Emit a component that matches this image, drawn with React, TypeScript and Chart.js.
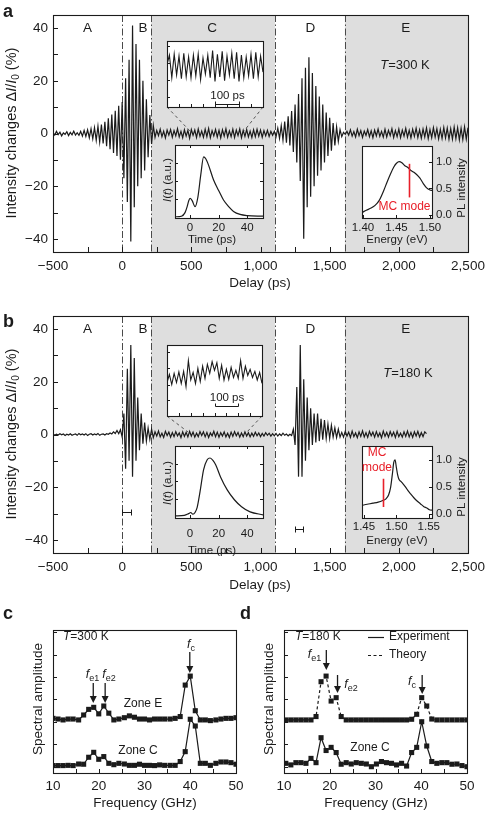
import React, { useEffect, useRef } from 'react';
import { Chart, registerables } from 'chart.js';

Chart.register(...registerables);

const FONT = '"Liberation Sans", Arial, Helvetica, sans-serif';
const INK = '#1b1b1b';
const ZONE_FILL = '#dedede';
const RED = '#e8202a';

// ---------------- Panels a / b : delay scans ----------------
const DELAY_START = -500; // ps
const DELAY_STEP = 12.5; // ps
const zoneBounds = [0, 210, 1105, 1610];
const shadedZones = [[210, 1105], [1610, 2500]];
const zoneLetters = ['A', 'B', 'C', 'D', 'E'];
const zoneLetterAt = [-250, 150, 650, 1360, 2050];
const delayTickLabels = [-500, 0, 500, 1000, 1500, 2000, 2500];
const delayMinorTicks = [-500, -250, 0, 250, 500, 750, 1000, 1250, 1500, 1750, 2000, 2250, 2500];
const intensityTickLabels = [-40, -20, 0, 20, 40];
const intensityMinorTicks = [-40, -30, -20, -10, 0, 10, 20, 30, 40];

// T = 300 K trace (ΔI/I0, %)
const t300Pre = [0.3, -0.6, 0.8, -0.4, 0.5, -0.9, 0.2, -0.3, 0.7, -0.8, 0.4, -0.5, 0.9, -0.6, 0.3, -0.7, 0.8,
  -1.0, 1.2, -1.1, 1.4,
  -1.6, 1.8, -2.0, 2.2, -2.6, 2.8, -3.2, 3.4, -3.8, 4.4, -4.8, 5.8, -6.0, 7.2, -7.4, 8.6, -8.5, 10.5, -10.0, 12.0];
const t300BurstB = [-17, 21, -26, 28, -41, 41, -28, 34, -20, 28, -17, 20, -14, 13, -9, 7, -4, 3];
const t300ZoneC = [-1.5, 1.2, -0.8, 1.6, -1.2, 0.9, -1.7, 1.3, -0.6, 1.5,
  -1.4, 1.1, -0.9, 1.8, -1.3, 0.8, -1.6, 1.4, -1.0, 1.2,
  -1.8, 1.5, -0.7, 1.3, -1.5, 1.7, -1.1, 0.9, -1.4, 1.6,
  -1.2, 1.9, -1.6, 1.1, -0.9, 1.5, -1.3, 1.2, -1.7, 1.4,
  -1.0, 1.8, -1.4, 1.0, -1.2, 1.6, -1.5, 1.3, -0.8, 1.7,
  -1.6, 1.2, -1.1, 1.5, -1.3, 0.9, -1.5, 1.4, -1.2, 1.6,
  -1.0, 1.3, -1.4, 1.1, -0.9, 1.2, -1.1, 0.8, -0.7];
const t300BurstD = [0.8, -1.2, 2.0, -1.8, 3.0, -2.5, 4.5, -3.5, 6.5, -4.5, 8.5, -7, 11, -11, 15, -18, 21, -40,
  25, -28, 29, -24, 23, -20, 18, -16, 14, -14, 11, -11, 8, -8.5, 6, -6.5, 4, -4.5, 2.5, -3, 1.5];
const t300ZoneE = [-1.2, 0.4, -0.3, 0.8, -0.6, 1.4, -1.0, 0.7, -1.3, 1.6,
  -0.8, 1.1, -1.5, 0.9, -0.7, 1.5, -1.2, 1.0, -1.6, 1.3,
  -0.9, 1.7, -1.1, 0.8, -1.4, 1.6, -1.3, 1.2, -0.8, 1.8,
  -1.5, 1.1, -1.2, 1.7, -1.6, 1.3, -1.0, 1.9, -1.4, 1.2,
  -1.7, 1.6, -1.1, 2.0, -1.5, 1.4, -1.8, 1.7, -1.3, 2.1,
  -1.9, 1.5, -1.6, 2.2, -1.4, 1.8, -2.0, 1.6, -1.9, 2.3,
  -1.7, 2.0, -2.2, 1.8, -2.1, 2.4, -1.9, 2.2, -2.4, 2.0,
  -2.3, 2.5, -2.1, 2.2];

// T = 180 K trace (ΔI/I0, %)
const t180Pre = [0.2, -0.3, 0.1, -0.2, 0.3, -0.1, 0.2, -0.4, 0.1, -0.2, 0.3, -0.3, 0.0, 0.2, -0.3, 0.4, -0.1,
  0.2, -0.2, 0.3, -0.4, 0.1, 0.3, -0.2, 0.2, -0.1, 0.4, -0.3, 0.1, 0.2, -0.2, 0.3, 0.1,
  0.6, 0.2, 1.0, 0.4, 1.5, 0.3, 1.8, -1.0];
const t180BurstB = [8, -13, 25, -10, 34, -16, 29, -10, 14, -6, 8, -3.5, 4.5, -2.5, 2.5, -1.8, 2.0];
const t180ZoneC = [-1.2, 1.0, -0.6, 1.3, -0.9, 0.5, -1.1, 1.2, -0.4, 0.9,
  -1.0, 0.7, -0.8, 1.1, -0.5, 0.6, -1.2, 1.0, -0.7, 0.8,
  -0.9, 1.2, -0.6, 0.9, -1.0, 0.5, -0.8, 1.1, -0.4, 1.0,
  -0.9, 0.8, -1.1, 0.6, -0.5, 1.2, -0.8, 0.9, -1.0, 0.7,
  -0.6, 1.0, -0.9, 0.5, -1.1, 0.9, -0.7, 1.1, -0.5, 0.8,
  -1.0, 0.6, -0.8, 1.0, -0.6, 0.7, -0.9, 0.5, -0.7, 0.9,
  -0.5, 0.6, -0.8, 0.4, -0.6, 0.7, -0.3, 0.5, -0.6, 0.3,
  -0.5, 0.4, -0.6, 0.2, -0.4, 0.5, -0.3, 0.2, -0.5, 0.1, -0.4];
const t180BurstD = [2, -4, 18, -16, 34, -16, 21, -10, 14, -6, 10, -4, 8, -3, 8, -2.5, 6, -2, 5.5, -1.5,
  4, -1.5, 3.5, -1, 2.5, -1.2, 2, -1];
const t180ZoneE = [0.8, -1.0, 1.2, -0.6, 0.9, -1.1, 1.3, -0.8, 0.6, -1.2,
  1.0, -0.7, 1.4, -0.9, 0.7, -1.1, 1.2, -0.5, 0.9, -1.0,
  1.1, -0.8, 0.6, -1.2, 1.3, -0.7, 0.8, -1.0, 1.1, -0.6,
  0.9, -1.1, 1.2, -0.8, 0.5, -1.0, 1.0, -0.7, 1.3, -0.9,
  0.8, -1.1, 1.0, -0.6, 1.2, -0.9, 0.7, -0.8, 1.0, 0.3];

// Upper insets: zoom of zone C (400 ps window, 10 ps steps)
const OSC_STEP = 10;
const osc300 = [0.5, 1.5, -0.9, 1.6, -0.6, 1.4, -1.0, 1.7, -0.8, 1.3, -0.9, 1.5, -0.7, 1.6, -1.1, 1.2, -0.5, 1.5,
  -0.9, 2.0, -1.3, 1.6, -0.8, 1.9, -1.2, 1.4, -0.6, 1.7, -1.0, 1.8, -1.3, 1.5, -0.9, 1.3, -0.7, 1.6, -1.0, 1.8,
  -0.8, 1.4, -0.3];
const osc180 = [-0.7, 0.1, -0.9, 0.2, -0.7, 0.35, -0.8, 0.4, -1.1, 1.45, -0.45, 0.3, -0.8, 0.7, -0.6, 0.9, -0.3,
  1.1, 0.2, 1.35, 0.5, 1.25, -0.3, 1.0, -0.45, 0.6, -0.4, 0.8, -0.2, 0.5, -0.3, 1.45, -0.3, 0.9, 0.0, 0.6, -0.2,
  0.4, -0.45, 0.3, -0.78];

// Lower insets: I(t) pump pulse
const pulse300T = [-10.5, -6, -3.5, -2, -1, 0, 1.5, 3.5, 5.5, 7.5, 9.5, 11, 13, 16.4, 20, 23.4, 27, 30.4, 35, 40, 51];
const pulse300I = [0, 0.01, 0.07, 0.17, 0.26, 0.31, 0.27, 0.17, 0.33, 0.7, 1.0, 0.97, 0.86, 0.62, 0.44, 0.28, 0.17,
  0.09, 0.04, 0.02, 0.01];
const pulse180T = [-10.5, -4, -1, 0.5, 2, 3.5, 5, 7, 9.5, 12, 14, 16, 18, 21.4, 26, 31, 36, 42, 51];
const pulse180I = [0, 0.01, 0.04, 0.06, 0.03, 0.06, 0.15, 0.42, 0.8, 0.97, 1.0, 0.96, 0.88, 0.67, 0.45, 0.28, 0.16,
  0.07, 0.02];
const pulseTicks = [0, 20, 40];

// Right insets: PL spectra
const pl300E = [1.399, 1.405, 1.412, 1.418, 1.424, 1.431, 1.436, 1.441, 1.446, 1.450, 1.454, 1.458, 1.462, 1.467,
  1.471, 1.476, 1.480, 1.485, 1.490, 1.495, 1.500, 1.503];
const pl300I = [0.05, 0.09, 0.13, 0.18, 0.27, 0.46, 0.62, 0.77, 0.90, 0.97, 1.00, 0.98, 0.93, 0.89, 0.84, 0.80,
  0.76, 0.69, 0.59, 0.51, 0.47, 0.46];
const pl180E = [1.447, 1.455, 1.464, 1.472, 1.479, 1.484, 1.488, 1.491, 1.494, 1.496, 1.498, 1.500, 1.502, 1.504,
  1.507, 1.510, 1.514, 1.518, 1.522, 1.527, 1.532, 1.537, 1.542, 1.547, 1.551, 1.555];
const pl180I = [0.16, 0.18, 0.20, 0.22, 0.25, 0.28, 0.35, 0.48, 0.75, 0.95, 1.00, 0.86, 0.72, 0.64, 0.60, 0.56,
  0.50, 0.43, 0.37, 0.30, 0.24, 0.19, 0.14, 0.11, 0.08, 0.07];
const mcMode300 = { e: 1.469, lo: 0.33, hi: 0.96 };
const mcMode180 = { e: 1.479, lo: 0.13, hi: 0.65 };
const pl300Ticks = [1.40, 1.45, 1.50];
const pl180Ticks = [1.45, 1.50, 1.55];
const plYTicks = [0, 0.5, 1.0];

// ---------------- Panels c / d : spectra ----------------
const freqC = [10.0, 11.1, 12.2, 13.3, 14.4, 15.6, 16.7, 17.8, 18.9, 20.0, 21.1, 22.2, 23.3, 24.4, 25.6, 26.7, 27.8,
  28.9, 30.0, 31.1, 32.2, 33.3, 34.4, 35.6, 36.7, 37.8, 38.9, 40.0, 41.1, 42.2, 43.3, 44.4, 45.6, 46.7, 47.8, 48.9, 50.0];
const spec300ZoneE = [2.16, 2.13, 2.09, 2.13, 2.13, 2.09, 2.31, 2.56, 2.65, 2.36, 2.71, 2.39, 2.09, 2.13, 2.19, 2.27,
  2.21, 2.13, 2.13, 2.09, 2.13, 2.13, 2.13, 2.13, 2.16, 2.24, 3.64, 4.04, 2.50, 2.09, 2.09, 2.06, 2.09, 2.13, 2.16,
  2.16, 2.19];
const spec300ZoneC = [0.06, 0.06, 0.06, 0.07, 0.06, 0.13, 0.12, 0.43, 0.65, 0.34, 0.46, 0.16, 0.10, 0.16, 0.13, 0.07,
  0.07, 0.12, 0.07, 0.07, 0.06, 0.09, 0.07, 0.07, 0.07, 0.24, 0.68, 2.12, 1.82, 0.16, 0.16, 0.07, 0.16, 0.22, 0.22,
  0.19, 0.12];
const freqD = [10.4, 11.5, 12.6, 13.7, 14.8, 15.9, 17.0, 18.1, 19.2, 20.3, 21.4, 22.5, 23.6, 24.7, 25.8, 26.9, 28.0,
  29.1, 30.2, 31.3, 32.4, 33.5, 34.6, 35.7, 36.8, 37.9, 39.0, 40.1, 41.2, 42.3, 43.4, 44.5, 45.6, 46.7, 47.8, 48.9, 50.0];
const spec180Theory = [2.09, 2.09, 2.09, 2.09, 2.09, 2.09, 2.24, 3.79, 4.04, 2.93, 3.08, 2.24, 2.09, 2.09, 2.09, 2.09,
  2.09, 2.09, 2.09, 2.09, 2.09, 2.09, 2.09, 2.09, 2.09, 2.12, 2.34, 3.08, 2.71, 2.13, 2.09, 2.09, 2.09, 2.09, 2.09,
  2.09, 2.09];
const spec180ZoneC = [0.16, 0.09, 0.19, 0.19, 0.16, 0.38, 0.19, 1.30, 0.73, 0.87, 0.64, 0.12, 0.19, 0.13, 0.19, 0.16,
  0.13, 0.01, 0.13, 0.24, 0.19, 0.16, 0.09, 0.16, 0.04, 0.64, 0.87, 2.01, 0.93, 0.24, 0.16, 0.19, 0.19, 0.12, 0.13,
  0.06, 0.01];
const freqTicks = [10, 20, 30, 40, 50];
const freqMinorTicks = [10, 15, 20, 25, 30, 35, 40, 45, 50];
const ampMinorTicks = [0, 1, 2, 3, 4, 5, 6];

// ---------------- helpers ----------------
const COMMON: any = {
  responsive: false,
  maintainAspectRatio: false,
  animation: false,
  devicePixelRatio: 1,
  events: [],
  plugins: { legend: { display: false }, tooltip: { enabled: false }, title: { display: false } },
};

function series(start: number, step: number, segs: number[][]) {
  const ys: number[] = ([] as number[]).concat(...segs);
  return ys.map((y, i) => ({ x: start + i * step, y }));
}
function pairs(xs: number[], ys: number[]) {
  return xs.map((x, i) => ({ x, y: ys[i] }));
}
const minus = (v: number, s: string) => (v < 0 ? '\u2212' + s.replace('-', '') : s);
const fmtDelay = (v: number) => minus(v, Math.abs(v) >= 1000 ? v.toLocaleString('en-US') : String(v));
const fmtSigned = (v: number) => minus(v, String(v));

function linScale(o: any) {
  return {
    type: 'linear',
    position: o.position,
    min: o.min,
    max: o.max,
    grid: { display: false, drawTicks: false },
    border: { display: false },
    afterBuildTicks: o.ticks ? (s: any) => { s.ticks = o.ticks.map((v: number) => ({ value: v })); } : undefined,
    afterFit: (s: any) => { if (o.horizontal) s.height = o.fit; else s.width = o.fit; },
    ticks: {
      display: !!o.ticks,
      autoSkip: false,
      maxRotation: 0,
      minRotation: 0,
      padding: o.pad ?? 4,
      color: INK,
      font: { family: FONT, size: o.size ?? 12 },
      callback: (v: any) => (o.fmt ? o.fmt(Number(v)) : String(v)),
    },
  };
}

type Part = { t: string; i?: boolean; sub?: boolean };
function rich(ctx: CanvasRenderingContext2D, parts: Part[] | string, x: number, y: number, size: number,
  o: { align?: string; rot?: number; color?: string; bold?: boolean } = {}) {
  const ps: Part[] = typeof parts === 'string' ? [{ t: parts }] : parts;
  ctx.save();
  ctx.translate(x, y);
  if (o.rot) ctx.rotate(o.rot);
  ctx.fillStyle = o.color || INK;
  ctx.textBaseline = 'middle';
  ctx.textAlign = 'left';
  const font = (p: Part) => `${p.i ? 'italic ' : ''}${o.bold ? 'bold ' : ''}${p.sub ? Math.round(size * 0.72) : size}px ${FONT}`;
  let total = 0;
  const widths = ps.map((p) => { ctx.font = font(p); const w = ctx.measureText(p.t).width; total += w; return w; });
  let cx = o.align === 'left' ? 0 : o.align === 'right' ? -total : -total / 2;
  ps.forEach((p, k) => { ctx.font = font(p); ctx.fillText(p.t, cx, p.sub ? size * 0.3 : 0); cx += widths[k]; });
  ctx.restore();
}

function frame(ctx: CanvasRenderingContext2D, a: any) {
  ctx.save();
  ctx.strokeStyle = INK;
  ctx.lineWidth = 1.1;
  ctx.setLineDash([]);
  ctx.strokeRect(Math.round(a.left) + 0.5, Math.round(a.top) + 0.5, Math.round(a.right - a.left), Math.round(a.bottom - a.top));
  ctx.restore();
}

function inTicks(ctx: CanvasRenderingContext2D, chart: any, axis: 'x' | 'y', values: number[], len: number, sides: string[]) {
  const a = chart.chartArea;
  const s = chart.scales[axis];
  ctx.save();
  ctx.strokeStyle = INK;
  ctx.lineWidth = 1;
  ctx.beginPath();
  for (const v of values) {
    const p = Math.round(s.getPixelForValue(v)) + 0.5;
    if (axis === 'x') {
      if (sides.includes('bottom')) { ctx.moveTo(p, a.bottom); ctx.lineTo(p, a.bottom - len); }
      if (sides.includes('top')) { ctx.moveTo(p, a.top); ctx.lineTo(p, a.top + len); }
    } else {
      if (sides.includes('left')) { ctx.moveTo(a.left, p); ctx.lineTo(a.left + len, p); }
      if (sides.includes('right')) { ctx.moveTo(a.right, p); ctx.lineTo(a.right - len, p); }
    }
  }
  ctx.stroke();
  ctx.restore();
}

function whiteArea(chart: any) {
  const { ctx, chartArea: a } = chart;
  ctx.save();
  ctx.fillStyle = '#ffffff';
  ctx.fillRect(a.left, a.top, a.right - a.left, a.bottom - a.top);
  ctx.restore();
}

function arrowDown(ctx: CanvasRenderingContext2D, x: number, y0: number, y1: number) {
  ctx.save();
  ctx.strokeStyle = INK;
  ctx.fillStyle = INK;
  ctx.lineWidth = 1.3;
  ctx.beginPath();
  ctx.moveTo(x, y0);
  ctx.lineTo(x, y1 - 5);
  ctx.stroke();
  ctx.beginPath();
  ctx.moveTo(x - 3.5, y1 - 7);
  ctx.lineTo(x + 3.5, y1 - 7);
  ctx.lineTo(x, y1);
  ctx.closePath();
  ctx.fill();
  ctx.restore();
}

// zoom-guide segments (delay, ΔI/I0) and resolution bars
const guideA = [[324, 10.06, 490, 0.95], [1018, 10.06, 881, 0.95]];
const guideB = [[324, 7.0, 476, 0.95], [1011, 7.0, 902, 0.95]];
const resBarsB = [[0, 65, -29.4], [1250, 1310, -35.9]];

const yLabelParts: Part[] = [{ t: 'Intensity changes \u0394' }, { t: 'I', i: true }, { t: '/' }, { t: 'I', i: true }, { t: '0', sub: true }, { t: ' (%)' }];

// ---------------- chart builders ----------------
function buildMain(canvas: HTMLCanvasElement, kind: 'a' | 'b') {
  const data = kind === 'a'
    ? series(DELAY_START, DELAY_STEP, [t300Pre, t300BurstB, t300ZoneC, t300BurstD, t300ZoneE])
    : series(DELAY_START, DELAY_STEP, [t180Pre, t180BurstB, t180ZoneC, t180BurstD, t180ZoneE]);
  return new Chart(canvas, {
    type: 'line',
    data: { datasets: [{ data, borderColor: INK, borderWidth: 1.2, pointRadius: 0, tension: 0 }] },
    options: {
      ...COMMON,
      layout: { padding: { left: 0, top: 15, right: 32, bottom: 0 } },
      scales: {
        x: linScale({ min: -500, max: 2500, ticks: delayTickLabels, fmt: fmtDelay, size: 13.5, pad: 6, fit: 48, horizontal: true }),
        y: linScale({ min: -45, max: 45, ticks: intensityTickLabels, fmt: fmtSigned, size: 13.5, pad: 5, fit: 53, horizontal: false }),
      },
    } as any,
    plugins: [{
      id: 'delayDecor',
      beforeDatasetsDraw(chart: any) {
        const { ctx, chartArea: a, scales } = chart;
        const sx = scales.x;
        ctx.save();
        ctx.fillStyle = ZONE_FILL;
        for (const [z0, z1] of shadedZones) {
          const p0 = sx.getPixelForValue(z0);
          const p1 = sx.getPixelForValue(z1);
          ctx.fillRect(p0, a.top, p1 - p0, a.bottom - a.top);
        }
        ctx.strokeStyle = '#4a4a4a';
        ctx.lineWidth = 1;
        ctx.setLineDash([7, 2.5, 1.5, 2.5]);
        for (const b of zoneBounds) {
          const p = Math.round(sx.getPixelForValue(b)) + 0.5;
          ctx.beginPath();
          ctx.moveTo(p, a.top);
          ctx.lineTo(p, a.bottom);
          ctx.stroke();
        }
        ctx.restore();
      },
      afterDatasetsDraw(chart: any) {
        const { ctx, chartArea: a, scales } = chart;
        const sx = scales.x;
        const sy = scales.y;
        frame(ctx, a);
        inTicks(ctx, chart, 'x', delayMinorTicks, 5, ['bottom']);
        inTicks(ctx, chart, 'y', intensityMinorTicks, 5, ['left']);
        ctx.save();
        ctx.setLineDash([3, 3]);
        ctx.strokeStyle = '#555';
        ctx.lineWidth = 1;
        for (const [x0, y0, x1, y1] of (kind === 'a' ? guideA : guideB)) {
          ctx.beginPath();
          ctx.moveTo(sx.getPixelForValue(x0), sy.getPixelForValue(y0));
          ctx.lineTo(sx.getPixelForValue(x1), sy.getPixelForValue(y1));
          ctx.stroke();
        }
        ctx.restore();
        if (kind === 'b') {
          ctx.save();
          ctx.strokeStyle = INK;
          ctx.lineWidth = 1;
          for (const [x0, x1, y] of resBarsB) {
            const p0 = Math.round(sx.getPixelForValue(x0)) + 0.5;
            const p1 = Math.round(sx.getPixelForValue(x1)) + 0.5;
            const py = Math.round(sy.getPixelForValue(y)) + 0.5;
            ctx.beginPath();
            ctx.moveTo(p0, py); ctx.lineTo(p1, py);
            ctx.moveTo(p0, py - 3); ctx.lineTo(p0, py + 3);
            ctx.moveTo(p1, py - 3); ctx.lineTo(p1, py + 3);
            ctx.stroke();
          }
          ctx.restore();
        }
        zoneLetters.forEach((L, k) => rich(ctx, L, sx.getPixelForValue(zoneLetterAt[k]), a.top + 13.5, 13.5));
        rich(ctx, [{ t: 'T', i: true }, { t: kind === 'a' ? '=300 K' : '=180 K' }], kind === 'a' ? 405 : 408, kind === 'a' ? 65 : 72, 13);
        rich(ctx, kind, 3, kind === 'a' ? 12 : 21, 18, { align: 'left', bold: true });
        rich(ctx, yLabelParts, 12, 133, 14.5, { rot: -Math.PI / 2 });
        rich(ctx, 'Delay (ps)', 260, kind === 'a' ? 283 : 284, 13.5);
      },
    }],
  } as any);
}

function buildOsc(canvas: HTMLCanvasElement, kind: 'a' | 'b') {
  const vals = kind === 'a' ? osc300 : osc180;
  const barY = kind === 'a' ? -3.68 : -3.02;
  const yTicks = kind === 'a' ? [2.5, 0.7, -1.1, -2.9] : [2.3, 0.7, -0.9, -2.4];
  return new Chart(canvas, {
    type: 'line',
    data: { datasets: [{ data: vals.map((y, i) => ({ x: i * OSC_STEP, y })), borderColor: INK, borderWidth: 1.1, pointRadius: 0 }] },
    options: {
      ...COMMON,
      layout: { padding: kind === 'a' ? { left: 7, top: 6, right: 7, bottom: 8 } : { left: 7, top: 6, right: 8, bottom: 3 } },
      scales: {
        x: { type: 'linear', display: false, min: 0, max: 400 },
        y: { type: 'linear', display: false, min: -4, max: 3 },
      },
    } as any,
    plugins: [{
      id: 'oscDecor',
      beforeDatasetsDraw: (chart: any) => whiteArea(chart),
      afterDatasetsDraw(chart: any) {
        const { ctx, chartArea: a, scales } = chart;
        frame(ctx, a);
        inTicks(ctx, chart, 'x', [50, 100, 150, 200, 250, 300, 350], 3, ['bottom']);
        inTicks(ctx, chart, 'y', yTicks, 3, ['left']);
        const p0 = Math.round(scales.x.getPixelForValue(200)) + 0.5;
        const p1 = Math.round(scales.x.getPixelForValue(300)) + 0.5;
        const py = Math.round(scales.y.getPixelForValue(barY)) + 0.5;
        ctx.save();
        ctx.strokeStyle = INK;
        ctx.lineWidth = 1;
        ctx.beginPath();
        ctx.moveTo(p0, py); ctx.lineTo(p1, py);
        ctx.moveTo(p0, py); ctx.lineTo(p0, py - 3);
        ctx.moveTo(p1, py); ctx.lineTo(p1, py - 3);
        ctx.stroke();
        ctx.restore();
        rich(ctx, '100 ps', (p0 + p1) / 2, py - 9, 11.5);
      },
    }],
  } as any);
}

function buildPulse(canvas: HTMLCanvasElement, kind: 'a' | 'b') {
  const xs = kind === 'a' ? pulse300T : pulse180T;
  const ys = kind === 'a' ? pulse300I : pulse180I;
  return new Chart(canvas, {
    type: 'line',
    data: { datasets: [{ data: pairs(xs, ys), borderColor: INK, borderWidth: 1.2, pointRadius: 0, cubicInterpolationMode: 'monotone' }] },
    options: {
      ...COMMON,
      layout: { padding: { left: 25, top: 10, right: 12, bottom: 0 } },
      scales: {
        x: linScale({ min: -10.5, max: 51, ticks: pulseTicks, fmt: (v: number) => String(v), size: 11.5, pad: kind === 'a' ? 3 : 9, fit: kind === 'a' ? 37 : 38, horizontal: true }),
        y: { type: 'linear', display: false, min: kind === 'a' ? -0.02 : -0.035, max: kind === 'a' ? 1.2 : 1.207 },
      },
    } as any,
    plugins: [{
      id: 'pulseDecor',
      beforeDatasetsDraw: (chart: any) => whiteArea(chart),
      afterDatasetsDraw(chart: any) {
        const { ctx, chartArea: a } = chart;
        frame(ctx, a);
        inTicks(ctx, chart, 'x', pulseTicks, 3, ['bottom', 'top']);
        inTicks(ctx, chart, 'y', [0.3, 0.6, 0.9], 3, ['left', 'right']);
        rich(ctx, 'Time (ps)', 62, kind === 'a' ? 105 : 115, 11.5);
        rich(ctx, [{ t: 'I', i: true }, { t: '(' }, { t: 't', i: true }, { t: ') (a.u.)' }], 18, kind === 'a' ? 45 : 47, 11.5, { rot: -Math.PI / 2 });
      },
    }],
  } as any);
}

function buildPL(canvas: HTMLCanvasElement, kind: 'a' | 'b') {
  const xs = kind === 'a' ? pl300E : pl180E;
  const ys = kind === 'a' ? pl300I : pl180I;
  const mc = kind === 'a' ? mcMode300 : mcMode180;
  const xTicks = kind === 'a' ? pl300Ticks : pl180Ticks;
  return new Chart(canvas, {
    type: 'line',
    data: { datasets: [{ data: pairs(xs, ys), borderColor: INK, borderWidth: 1.2, pointRadius: 0, cubicInterpolationMode: 'monotone' }] },
    options: {
      ...COMMON,
      layout: { padding: { left: 22, top: 10, right: 0, bottom: 0 } },
      scales: {
        x: linScale({ min: kind === 'a' ? 1.3985 : 1.447, max: kind === 'a' ? 1.503 : 1.555, ticks: xTicks, fmt: (v: number) => v.toFixed(2), size: 11.5, pad: kind === 'a' ? 3 : 2, fit: 37, horizontal: true }),
        y: linScale({ min: kind === 'a' ? -0.056 : -0.073, max: kind === 'a' ? 1.296 : 1.255, ticks: plYTicks, fmt: (v: number) => v.toFixed(1), size: 11.5, pad: 4, fit: 55, horizontal: false, position: 'right' }),
      },
    } as any,
    plugins: [{
      id: 'plDecor',
      beforeDatasetsDraw: (chart: any) => whiteArea(chart),
      afterDatasetsDraw(chart: any) {
        const { ctx, chartArea: a, scales } = chart;
        frame(ctx, a);
        inTicks(ctx, chart, 'x', xTicks, 3, ['bottom']);
        inTicks(ctx, chart, 'y', plYTicks, 3, ['right']);
        const px = Math.round(scales.x.getPixelForValue(mc.e)) + 0.5;
        ctx.save();
        ctx.strokeStyle = RED;
        ctx.lineWidth = 1.6;
        ctx.beginPath();
        ctx.moveTo(px, scales.y.getPixelForValue(mc.hi));
        ctx.lineTo(px, scales.y.getPixelForValue(mc.lo));
        ctx.stroke();
        ctx.restore();
        if (kind === 'a') {
          rich(ctx, 'MC mode', 64.5, 71.5, 12, { color: RED });
        } else {
          rich(ctx, 'MC', 37, 18, 12, { color: RED });
          rich(ctx, 'mode', 37, 33, 12, { color: RED });
        }
        rich(ctx, 'Energy (eV)', 57, kind === 'a' ? 105 : 106, 11.5);
        rich(ctx, 'PL intensity', 122, kind === 'a' ? 53 : 52, 11.5, { rot: -Math.PI / 2 });
      },
    }],
  } as any);
}

function specDataset(xs: number[], ys: number[], dashed: boolean) {
  return {
    data: pairs(xs, ys),
    borderColor: INK,
    borderWidth: 1.2,
    borderDash: dashed ? [3, 2.5] : [],
    pointStyle: 'rect',
    pointRadius: 3.6,
    pointBackgroundColor: INK,
    pointBorderWidth: 0,
    tension: 0,
  };
}

function buildSpec(canvas: HTMLCanvasElement, kind: 'c' | 'd') {
  const datasets = kind === 'c'
    ? [specDataset(freqC, spec300ZoneE, false), specDataset(freqC, spec300ZoneC, false)]
    : [specDataset(freqD, spec180Theory, true), specDataset(freqD, spec180ZoneC, false)];
  return new Chart(canvas, {
    type: 'line',
    data: { datasets },
    options: {
      ...COMMON,
      layout: { padding: { left: 0, top: 30, right: kind === 'c' ? 24 : 20, bottom: 0 } },
      scales: {
        x: linScale({ min: 10, max: 50, ticks: freqTicks, fmt: (v: number) => String(v), size: 13.5, pad: 5, fit: 42, horizontal: true }),
        y: linScale({ min: -0.27, max: 6.09, fit: kind === 'c' ? 53 : 54, horizontal: false }),
      },
    } as any,
    plugins: [{
      id: 'specDecor',
      afterDatasetsDraw(chart: any) {
        const { ctx, chartArea: a, scales } = chart;
        const sx = scales.x;
        frame(ctx, a);
        inTicks(ctx, chart, 'x', freqMinorTicks, 4, ['bottom']);
        inTicks(ctx, chart, 'y', ampMinorTicks, 4, ['left']);
        const fsub = (s: string): Part[] => [{ t: 'f', i: true }, { t: s, sub: true }];
        if (kind === 'c') {
          rich(ctx, 'c', 3, 14, 18, { align: 'left', bold: true });
          rich(ctx, [{ t: 'T', i: true }, { t: '=300 K' }], 63, 37, 12, { align: 'left' });
          rich(ctx, fsub('e1'), 92.5, 75, 12.5);
          rich(ctx, fsub('e2'), 109, 75, 12.5);
          rich(ctx, fsub('c'), 191, 45, 12.5);
          arrowDown(ctx, sx.getPixelForValue(18.8), 83, 103);
          arrowDown(ctx, sx.getPixelForValue(21.4), 83, 103);
          arrowDown(ctx, sx.getPixelForValue(39.9), 52, 73);
          rich(ctx, 'Zone E', 143, 104, 12);
          rich(ctx, 'Zone C', 138, 151, 12);
          rich(ctx, 'Spectral amplitude', 38, 99, 13.5, { rot: -Math.PI / 2 });
          rich(ctx, 'Frequency (GHz)', 145, 203, 13.5);
        } else {
          rich(ctx, 'd', 10, 14, 18, { align: 'left', bold: true });
          rich(ctx, [{ t: 'T', i: true }, { t: '=180 K' }], 65, 37, 12, { align: 'left' });
          ctx.save();
          ctx.strokeStyle = INK;
          ctx.lineWidth = 1.2;
          ctx.beginPath(); ctx.moveTo(138, 37.5); ctx.lineTo(154, 37.5); ctx.stroke();
          ctx.setLineDash([3, 2.5]);
          ctx.beginPath(); ctx.moveTo(138, 55.5); ctx.lineTo(154, 55.5); ctx.stroke();
          ctx.restore();
          rich(ctx, 'Experiment', 159, 37, 12, { align: 'left' });
          rich(ctx, 'Theory', 159, 55, 12, { align: 'left' });
          rich(ctx, fsub('e1'), 84.5, 55, 12.5);
          rich(ctx, fsub('e2'), 121, 85, 12.5);
          rich(ctx, fsub('c'), 182, 82, 12.5);
          arrowDown(ctx, sx.getPixelForValue(19.25), 50, 70);
          arrowDown(ctx, sx.getPixelForValue(21.7), 75, 93);
          arrowDown(ctx, sx.getPixelForValue(40.2), 75, 94);
          rich(ctx, 'Zone C', 140, 148, 12);
          rich(ctx, 'Spectral amplitude', 39, 99, 13.5, { rot: -Math.PI / 2 });
          rich(ctx, 'Frequency (GHz)', 146, 203, 13.5);
        }
      },
    }],
  } as any);
}

// ---------------- React ----------------
function ChartBox({ left, top, width, height, build }: { left: number; top: number; width: number; height: number; build: (c: HTMLCanvasElement) => any }) {
  const ref = useRef<HTMLCanvasElement>(null);
  useEffect(() => {
    const chart = build(ref.current as HTMLCanvasElement);
    return () => chart.destroy();
  }, []);
  return <canvas ref={ref} width={width} height={height} style={{ position: 'absolute', left, top, width, height }} />;
}

export default function App() {
  return (
    <div style={{ position: 'absolute', left: 0, top: 0, width: 487, height: 815, background: '#ffffff', overflow: 'hidden' }}>
      <ChartBox left={0} top={0} width={500} height={300} build={(c) => buildMain(c, 'a')} />
      <ChartBox left={160} top={35} width={110} height={80} build={(c) => buildOsc(c, 'a')} />
      <ChartBox left={150} top={135} width={125} height={120} build={(c) => buildPulse(c, 'a')} />
      <ChartBox left={340} top={135} width={147} height={120} build={(c) => buildPL(c, 'a')} />
      <ChartBox left={0} top={301} width={500} height={300} build={(c) => buildMain(c, 'b')} />
      <ChartBox left={160} top={339} width={110} height={80} build={(c) => buildOsc(c, 'b')} />
      <ChartBox left={150} top={436} width={125} height={120} build={(c) => buildPulse(c, 'b')} />
      <ChartBox left={340} top={435} width={147} height={120} build={(c) => buildPL(c, 'b')} />
      <ChartBox left={0} top={600} width={260} height={215} build={(c) => buildSpec(c, 'c')} />
      <ChartBox left={230} top={600} width={257} height={215} build={(c) => buildSpec(c, 'd')} />
    </div>
  );
}
